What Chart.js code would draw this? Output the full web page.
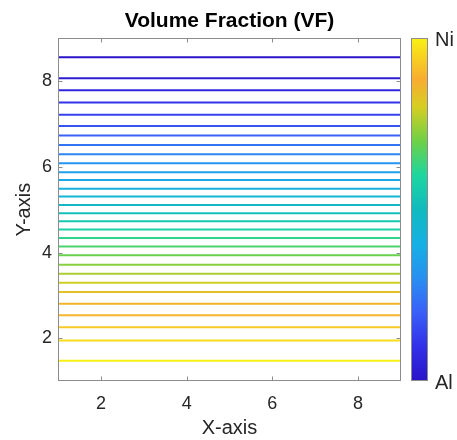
<!DOCTYPE html>
<html>
<head>
<meta charset="utf-8">
<script src="https://cdn.jsdelivr.net/npm/chart.js@4.4.1/dist/chart.umd.min.js"></script>
<style>
  html, body { margin: 0; padding: 0; background: #fff; }
  #wrap { width: 457px; height: 440px; }
</style>
</head>
<body>
<div id="wrap"><canvas id="vfChart"></canvas></div>
<script>
// iso-line levels, top (Al side) to bottom (Ni side)
const levelY = [8.55, 8.06, 7.78, 7.50, 7.21, 6.95, 6.73, 6.51, 6.29, 6.08,
                5.87, 5.69, 5.49, 5.31, 5.11, 4.92, 4.73, 4.54, 4.34, 4.14,
                3.94, 3.72, 3.51, 3.30, 3.08, 2.81, 2.54, 2.26, 1.95, 1.48];
const xSpan = [1, 9];
const ySpan = [1, 9];
const xTicks = [2, 4, 6, 8];
const yTicks = [2, 4, 6, 8];
const barLabels = ['Al', 'Ni'];
const chartTitle = 'Volume Fraction (VF)';

// parula-like colormap, 0 = Al, 1 = Ni
const cmapPos = [0, 0.1, 0.2, 0.3, 0.4, 0.5, 0.6, 0.7, 0.8, 0.88, 1];
const cmapRGB = [[42, 20, 200], [50, 48, 232], [58, 96, 248], [40, 144, 240], [22, 176, 228],
                 [16, 186, 190], [30, 214, 160], [110, 208, 70], [214, 206, 34], [248, 172, 48],
                 [248, 240, 20]];

const TEXT = '#262626';
const FRAME = '#8c8c8c';
const FONT = '"Liberation Sans", Arial, sans-serif';

function rgb(c) { return `rgb(${c[0]},${c[1]},${c[2]})`; }

function cmap(t) {
    for (let i = 1; i < cmapPos.length; i++) {
        if (t <= cmapPos[i]) {
            const f = (t - cmapPos[i - 1]) / (cmapPos[i] - cmapPos[i - 1]);
            const a = cmapRGB[i - 1], b = cmapRGB[i];
            return rgb(a.map((v, k) => Math.round(v + (b[k] - v) * f)));
        }
    }
    return rgb(cmapRGB[cmapRGB.length - 1]);
}

const datasets = levelY.map((yv, i) => ({
    data: xSpan.map(xv => ({ x: xv, y: yv })),
    borderColor: cmap(i / (levelY.length - 1)),
    borderWidth: 2,
    pointRadius: 0,
    showLine: true,
    fill: false
}));

// title over the plot, box, inward tick marks and the colorbar
const framePlugin = {
    id: 'frame',
    afterDatasetsDraw(chart) {
        const { ctx, chartArea: a, scales: { x, y } } = chart;
        const L = Math.round(a.left) + 0.5, R = Math.round(a.right) - 0.5;
        const T = Math.round(a.top) + 0.5, B = Math.round(a.bottom) - 0.5;
        ctx.save();

        ctx.fillStyle = '#000';
        ctx.font = `bold 21px ${FONT}`;
        ctx.textAlign = 'center';
        ctx.textBaseline = 'middle';
        ctx.fillText(chartTitle, (a.left + a.right) / 2, 21);

        ctx.strokeStyle = FRAME;
        ctx.lineWidth = 1;
        ctx.strokeRect(L, T, R - L, B - T);

        const tl = 4;
        ctx.beginPath();
        xTicks.forEach(v => {
            const px = Math.round(x.getPixelForValue(v)) + 0.5;
            ctx.moveTo(px, B); ctx.lineTo(px, B - tl);
            ctx.moveTo(px, T); ctx.lineTo(px, T + tl);
        });
        yTicks.forEach(v => {
            const py = Math.round(y.getPixelForValue(v)) + 0.5;
            ctx.moveTo(L, py); ctx.lineTo(L + tl, py);
            ctx.moveTo(R, py); ctx.lineTo(R - tl, py);
        });
        ctx.stroke();

        const cbL = Math.round(a.right) + 10, cbW = 17;
        const g = ctx.createLinearGradient(0, B, 0, T);
        cmapPos.forEach((p, i) => g.addColorStop(p, rgb(cmapRGB[i])));
        ctx.fillStyle = g;
        ctx.fillRect(cbL, T, cbW, B - T);
        ctx.strokeRect(cbL + 0.5, T, cbW - 1, B - T);

        ctx.fillStyle = TEXT;
        ctx.font = `20px ${FONT}`;
        ctx.textAlign = 'left';
        ctx.fillText(barLabels[1], cbL + cbW + 7, T + 2);
        ctx.fillText(barLabels[0], cbL + cbW + 7, B + 3);
        ctx.restore();
    }
};

new Chart(document.getElementById('vfChart'), {
    type: 'scatter',
    data: { datasets },
    plugins: [framePlugin],
    options: {
        responsive: true,
        maintainAspectRatio: false,
        animation: false,
        layout: { padding: { left: 0, right: 56, top: 38, bottom: 0 } },
        plugins: {
            legend: { display: false },
            tooltip: { enabled: false },
            title: { display: false }
        },
        scales: {
            x: {
                type: 'linear',
                min: xSpan[0],
                max: xSpan[1],
                afterBuildTicks: axis => { axis.ticks = xTicks.map(v => ({ value: v })); },
                grid: { display: false, drawTicks: false },
                border: { display: false },
                ticks: { color: TEXT, font: { family: FONT, size: 18 }, padding: 12, maxRotation: 0 },
                title: {
                    display: true, text: 'X-axis', color: TEXT,
                    font: { family: FONT, size: 20 }, padding: { top: -11, bottom: 0 }
                }
            },
            y: {
                type: 'linear',
                min: ySpan[0],
                max: ySpan[1],
                afterBuildTicks: axis => { axis.ticks = yTicks.map(v => ({ value: v })); },
                grid: { display: false, drawTicks: false },
                border: { display: false },
                ticks: { color: TEXT, font: { family: FONT, size: 18 }, padding: 6 },
                title: {
                    display: true, text: 'Y-axis', color: TEXT,
                    font: { family: FONT, size: 20 }, padding: { top: 12, bottom: 0 }
                }
            }
        }
    }
});
</script>
</body>
</html>
